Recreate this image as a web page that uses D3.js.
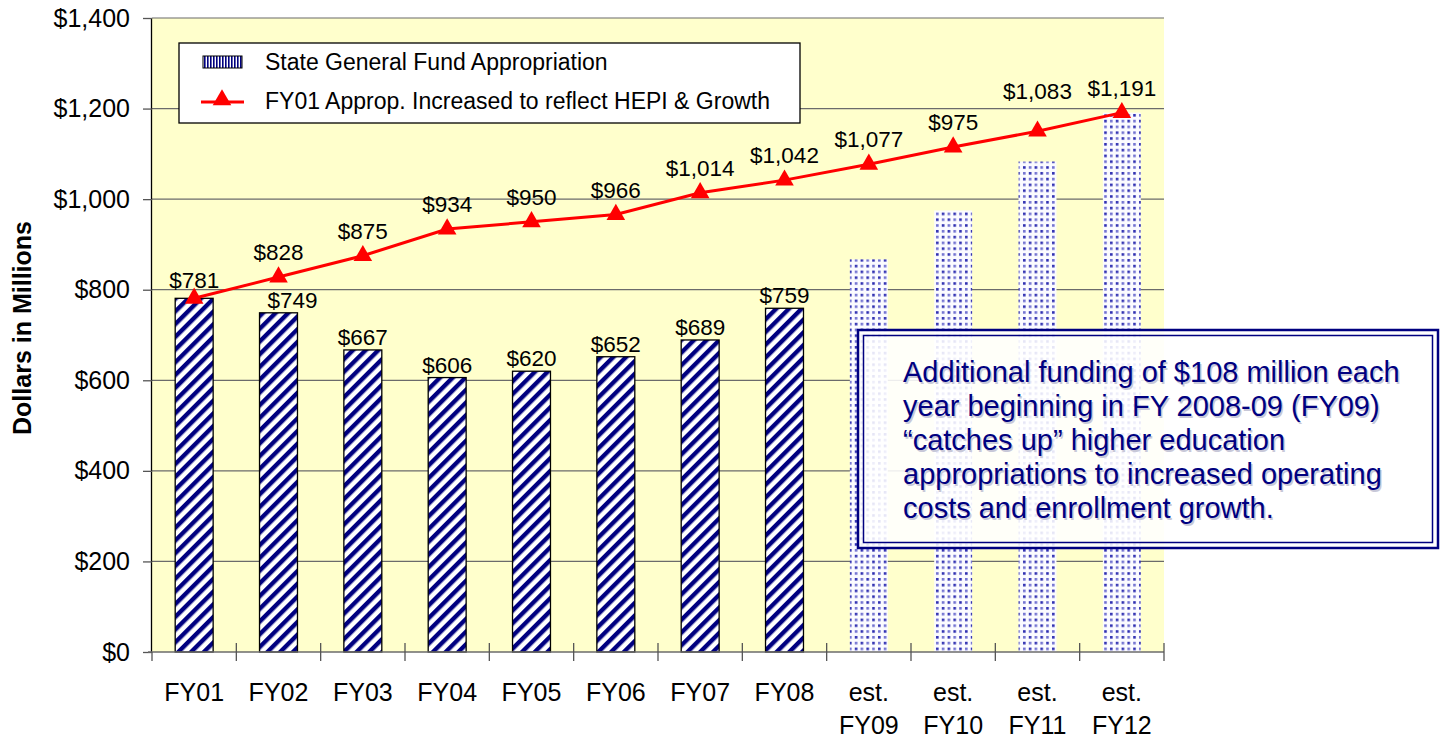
<!DOCTYPE html>
<html><head><meta charset="utf-8">
<script src="https://cdn.jsdelivr.net/npm/d3@7"></script>
<style>body{margin:0;background:#fff;}svg{display:block;font-family:"Liberation Sans",Arial,sans-serif;}</style>
</head><body><svg id="c" width="1444" height="741"></svg>
<script>
const categories = ["FY01","FY02","FY03","FY04","FY05","FY06","FY07","FY08","est.\nFY09","est.\nFY10","est.\nFY11","est.\nFY12"];
const barValues = [781,749,667,606,620,652,689,759,867,975,1083,1191];
const estimated = [false,false,false,false,false,false,false,false,true,true,true,true];
const lineValues = [781,828,875,934,950,966,1014,1042,1077,1115,1150,1191];
const lineLabels = ["$781","$828","$875","$934","$950","$966","$1,014","$1,042","$1,077","$975","$1,083","$1,191"];
const barLabels = [null,"$749","$667","$606","$620","$652","$689","$759",null,null,null,null];
const yTicks = [0,200,400,600,800,1000,1200,1400];
const seriesNames = ["State General Fund Appropriation","FY01 Approp. Increased to reflect HEPI & Growth"];
const yTitle = "Dollars in Millions";
const noteLines = ["Additional funding of $108 million each","year beginning in FY 2008-09 (FY09)","\u201Ccatches up\u201D higher education","appropriations to increased operating","costs and enrollment growth."];

const svg = d3.select("#c");
const L = 152, R = 1164, T = 18, B = 652;
const x = d3.scaleBand().domain(categories).range([L, R]).padding(0);
const y = d3.scaleLinear().domain([0, 1400]).range([B, T]);
const navy = "#000080";

const defs = svg.append("defs");
const stripe = defs.append("pattern").attr("id","stripe").attr("patternUnits","userSpaceOnUse")
  .attr("width",9).attr("height",9).attr("patternTransform","rotate(45)");
stripe.append("rect").attr("width",9).attr("height",9).attr("fill","#fff");
stripe.append("rect").attr("width",4.4).attr("height",9).attr("fill",navy);
const g = 5.8;
const dots = defs.append("pattern").attr("id","dots").attr("patternUnits","userSpaceOnUse")
  .attr("width",2*g).attr("height",2*g).attr("x",848).attr("y",258);
dots.append("rect").attr("width",2*g).attr("height",2*g).attr("fill","#fbfbff");
[[1,1],[1+g,1+g]].forEach(p=>dots.append("rect").attr("x",p[0]).attr("y",p[1]).attr("width",2.6).attr("height",2.6).attr("fill","#2c2cb0"));
[[1+g,1],[1,1+g]].forEach(p=>dots.append("rect").attr("x",p[0]).attr("y",p[1]).attr("width",2.6).attr("height",2.6).attr("fill","#7070d0"));
const vstripe = defs.append("pattern").attr("id","vstripe").attr("patternUnits","userSpaceOnUse")
  .attr("width",3).attr("height",3);
vstripe.append("rect").attr("width",3).attr("height",3).attr("fill","#fff");
vstripe.append("rect").attr("width",1.6).attr("height",3).attr("fill",navy);

// plot background
svg.append("rect").attr("x",L).attr("y",T).attr("width",R-L).attr("height",B-T).attr("fill","#FFFFCC");

// gridlines
svg.append("g").selectAll("line").data(yTicks.filter(d=>d>0)).join("line")
  .attr("x1",L).attr("x2",R).attr("y1",d=>y(d)).attr("y2",d=>y(d))
  .attr("stroke","#6b6b6b").attr("stroke-width",1.2);

// y axis
const yAxis = svg.append("g").attr("transform",`translate(${L},0)`)
  .call(d3.axisLeft(y).tickValues(yTicks).tickSize(9).tickPadding(13).tickFormat(d=>"$"+d3.format(",")(d)));
yAxis.select(".domain").attr("stroke","#000").attr("stroke-width",1.3).attr("d",`M-0.5,${T}V${B}`);
yAxis.selectAll(".tick line").attr("stroke","#555").attr("stroke-width",1.3);
yAxis.selectAll("text").attr("font-size",25).attr("fill","#000").attr("font-family","Liberation Sans, Arial");

// bars
const bw = x.bandwidth()*0.45;
svg.append("g").selectAll("rect").data(categories).join("rect")
  .attr("x",(d)=>x(d)+x.bandwidth()/2-bw/2)
  .attr("y",(d,i)=>y(barValues[i]))
  .attr("width",bw)
  .attr("height",(d,i)=>y(0)-y(barValues[i]))
  .attr("fill",(d,i)=>estimated[i]?"url(#dots)":"url(#stripe)")
  .attr("stroke",(d,i)=>estimated[i]?"none":"#000")
  .attr("stroke-width",1.3);

// x axis
svg.append("line").attr("x1",L-4).attr("x2",R).attr("y1",B).attr("y2",B).attr("stroke","#6b6b6b").attr("stroke-width",1.5);
const bounds = categories.map(c=>x(c)).concat([R]);
svg.append("g").selectAll("line").data(bounds).join("line")
  .attr("x1",d=>d).attr("x2",d=>d).attr("y1",(d,i)=>i===0?B:B-9).attr("y2",B+9)
  .attr("stroke","#555").attr("stroke-width",1.3);
const xl = svg.append("g").selectAll("text").data(categories).join("text")
  .attr("text-anchor","middle").attr("font-size",25).attr("fill","#000")
  .attr("x",d=>x(d)+x.bandwidth()/2).attr("y",701);
xl.each(function(d){
  const parts = d.split("\n");
  d3.select(this).selectAll("tspan").data(parts).join("tspan")
    .attr("x",x(d)+x.bandwidth()/2).attr("dy",(p,i)=>i===0?0:33).text(p=>p);
});

// y title
svg.append("text").attr("transform","translate(31,328) rotate(-90)").attr("text-anchor","middle")
  .attr("font-size",25).attr("font-weight","bold").text(yTitle);

// bar labels
svg.append("g").selectAll("text").data(categories).join("text")
  .attr("x",(d,i)=>x(d)+x.bandwidth()/2+(i===1?14:0))
  .attr("y",(d,i)=>y(barValues[i])-5)
  .attr("text-anchor","middle").attr("font-size",22.5).attr("fill","#000")
  .text((d,i)=>barLabels[i]||"");

// line
const line = d3.line().x((d,i)=>x(categories[i])+x.bandwidth()/2).y(d=>y(d));
svg.append("path").datum(lineValues).attr("d",line).attr("fill","none").attr("stroke","#FF0000").attr("stroke-width",3);
const tri = d3.symbol().type(d3.symbolTriangle).size(150);
svg.append("g").selectAll("path").data(lineValues).join("path")
  .attr("transform",(d,i)=>`translate(${x(categories[i])+x.bandwidth()/2},${y(d)})`)
  .attr("d",tri).attr("fill","#FF0000");
svg.append("g").selectAll("text").data(lineValues).join("text")
  .attr("x",(d,i)=>x(categories[i])+x.bandwidth()/2)
  .attr("y",(d,i)=>y(d)-(i===10?32:i===0?10:17))
  .attr("text-anchor","middle").attr("font-size",22.5).attr("fill","#000")
  .text((d,i)=>lineLabels[i]);

// legend
const lg = svg.append("g");
lg.append("rect").attr("x",179).attr("y",43).attr("width",621).attr("height",80).attr("fill","#fff").attr("stroke","#000").attr("stroke-width",1.3);
lg.append("rect").attr("x",203).attr("y",56).attr("width",39).attr("height",12).attr("fill","url(#vstripe)").attr("stroke","#000").attr("stroke-width",1);
lg.append("text").attr("x",265).attr("y",70).attr("font-size",23).text(seriesNames[0]);
lg.append("line").attr("x1",201).attr("x2",244).attr("y1",102).attr("y2",102).attr("stroke","#FF0000").attr("stroke-width",3);
lg.append("path").attr("transform","translate(222,100)").attr("d",tri).attr("fill","#FF0000");
lg.append("text").attr("x",265).attr("y",109).attr("font-size",23).text(seriesNames[1]);

// note box
const nb = svg.append("g");
nb.append("rect").attr("x",858).attr("y",330).attr("width",580).attr("height",218).attr("fill","#fff").attr("fill-opacity",0.88).attr("stroke",navy).attr("stroke-width",2.5);
nb.append("rect").attr("x",863.5).attr("y",335.5).attr("width",569).attr("height",207).attr("fill","none").attr("stroke",navy).attr("stroke-width",1.5);
noteLines.forEach((t,i)=>{
  nb.append("text").attr("x",903+1.5).attr("y",382+i*34+1.5).attr("font-size",29).attr("fill","#c8c8d8").text(t);
  nb.append("text").attr("x",903).attr("y",382+i*34).attr("font-size",29).attr("fill",navy).text(t);
});
</script></body></html>
